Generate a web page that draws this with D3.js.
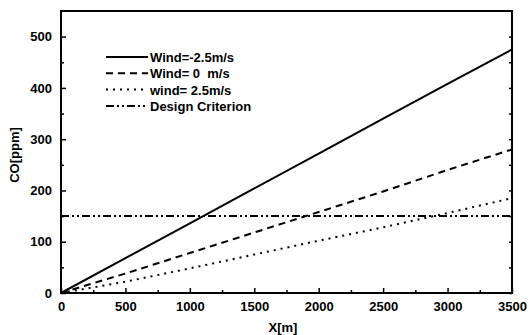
<!DOCTYPE html>
<html>
<head>
<meta charset="utf-8">
<script src="https://cdn.jsdelivr.net/npm/d3@7"></script>
<style>
  body { margin: 0; background: #fff; }
  svg text { font-family: "Liberation Sans", Arial, sans-serif; font-weight: bold; fill: #000; white-space: pre; }
</style>
</head>
<body>
<div id="wrapper"></div>
<script>
// data
const xValues = [0, 500, 1000, 1500, 2000, 2500, 3000, 3500]
const windNeg = [0, 68, 136, 204, 272, 340, 408, 475]
const windZero = [0, 38, 78, 118, 158, 198, 240, 280]
const windPos = [0, 22, 48, 75, 102, 128, 156, 185]
const criterion = 150
const xTicks = [0, 500, 1000, 1500, 2000, 2500, 3000, 3500]
const yTicks = [0, 100, 200, 300, 400, 500]

const series = [
  { name: "Wind=-2.5m/s", values: windNeg, dash: null },
  { name: "Wind= 0  m/s", values: windZero, dash: "7,5" },
  { name: "wind= 2.5m/s", values: windPos, dash: "2,5" },
]

const dims = {
  width: 529,
  height: 335,
  margin: { top: 11, right: 17, bottom: 42, left: 61 }
}
dims.boundedWidth = dims.width - dims.margin.left - dims.margin.right
dims.boundedHeight = dims.height - dims.margin.top - dims.margin.bottom

const svg = d3.select("#wrapper").append("svg")
  .attr("width", dims.width)
  .attr("height", dims.height)

const bounds = svg.append("g")
  .attr("transform", `translate(${dims.margin.left},${dims.margin.top})`)

const xScale = d3.scaleLinear().domain([0, 3500]).range([0, dims.boundedWidth])
const yScale = d3.scaleLinear().domain([0, 550]).range([dims.boundedHeight, 0])

// lines
const line = d3.line()
  .x((d, i) => xScale(xValues[i]))
  .y(d => yScale(d))

series.forEach(s => {
  bounds.append("path")
    .datum(s.values)
    .attr("d", line)
    .attr("fill", "none")
    .attr("stroke", "#000")
    .attr("stroke-width", 2)
    .attr("stroke-dasharray", s.dash)
})

bounds.append("line")
  .attr("x1", xScale(0)).attr("x2", xScale(3500))
  .attr("y1", yScale(criterion)).attr("y2", yScale(criterion))
  .attr("stroke", "#000")
  .attr("stroke-width", 2)
  .attr("stroke-dasharray", "8,3,2,3,2,3")

// axes with inward ticks
const xAxis = bounds.append("g")
  .attr("transform", `translate(0,${dims.boundedHeight})`)
  .call(d3.axisBottom(xScale).tickValues(xTicks).tickFormat(d3.format("d"))
    .tickSizeInner(-5).tickSizeOuter(0).tickPadding(9))
const xMinor = bounds.append("g")
  .attr("transform", `translate(0,${dims.boundedHeight})`)
  .call(d3.axisBottom(xScale).tickValues(d3.range(250, 3500, 500)).tickSize(-3).tickFormat(""))

const yAxis = bounds.append("g")
  .call(d3.axisLeft(yScale).tickValues(yTicks).tickFormat(d3.format("d"))
    .tickSizeInner(-5).tickSizeOuter(0).tickPadding(9))
const yMinor = bounds.append("g")
  .call(d3.axisLeft(yScale).tickValues(d3.range(50, 550, 100)).tickSize(-3).tickFormat(""))

const yRight = bounds.append("g")
  .attr("transform", `translate(${dims.boundedWidth},0)`)
  .call(d3.axisRight(yScale).tickValues(d3.range(0, 550, 50)).tickSize(-3).tickFormat(""))

;[xAxis, yAxis].forEach(a => a.selectAll("text").style("font-size", "13px"))
;[xAxis, yAxis, xMinor, yMinor, yRight].forEach(a => {
  a.select(".domain").remove()
  a.selectAll("line").attr("stroke-width", 1.5)
})

// frame
bounds.append("rect")
  .attr("width", dims.boundedWidth)
  .attr("height", dims.boundedHeight)
  .attr("fill", "none")
  .attr("stroke", "#000")
  .attr("stroke-width", 2)

// axis labels
svg.append("text")
  .attr("x", 283)
  .attr("y", 332)
  .attr("text-anchor", "middle")
  .style("font-size", "13px")
  .text("X[m]")

svg.append("text")
  .attr("transform", `translate(19,155) rotate(-90)`)
  .attr("text-anchor", "middle")
  .style("font-size", "13px")
  .text("CO[ppm]")

// legend
const legendItems = [
  ...series.map(s => ({ name: s.name, dash: s.dash })),
  { name: "Design Criterion", dash: "8,3,2,3,2,3" }
]
const legend = svg.append("g").attr("transform", "translate(106,57)")
legendItems.forEach((d, i) => {
  const row = legend.append("g").attr("transform", `translate(0,${i * 16.3})`)
  row.append("line")
    .attr("x1", 0).attr("x2", 42)
    .attr("stroke", "#000").attr("stroke-width", 2)
    .attr("stroke-dasharray", d.dash)
  row.append("text")
    .attr("x", 44).attr("y", 5)
    .style("font-size", "13px")
    .text(d.name)
})
</script>
</body>
</html>
